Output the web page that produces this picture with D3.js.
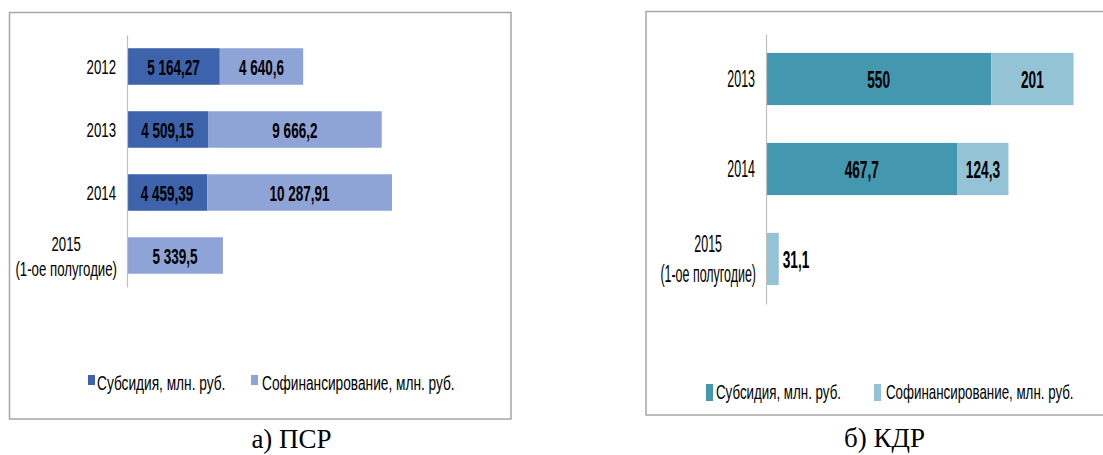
<!doctype html>
<html>
<head>
<meta charset="utf-8">
<script src="https://cdn.jsdelivr.net/npm/d3@7"></script>
<style>
  body { margin: 0; background: #fff; }
  svg { display: block; }
</style>
</head>
<body>
<script>
// Данные: ПСР
const psrYears = ["2012", "2013", "2014", "2015\n(1-ое полугодие)"];
const psrSubsidy = [5164.27, 4509.15, 4459.39, null];
const psrCofin = [4640.6, 9666.2, 10287.91, 5339.5];

// Данные: КДР
const kdrYears = ["2013", "2014", "2015\n(1-ое полугодие)"];
const kdrSubsidy = [550, 467.7, null];
const kdrCofin = [201, 124.3, 31.1];

const seriesNames = ["Субсидия, млн. руб.", "Софинансирование, млн. руб."];
const captions = ["а) ПСР", "б) КДР"];

const ru = d3.formatLocale({decimal: ",", thousands: " ", grouping: [3], currency: ["", ""]});
const fmt = ru.format(",.2~f");

const W = 1103, H = 455;
const svg = d3.select("body").append("svg").attr("width", W).attr("height", H);

const sans = "'Liberation Sans', Arial, sans-serif";
const serif = "'Liberation Serif', 'Times New Roman', serif";

// текст, сжатый по горизонтали (узкий шрифт как в оригинале)
function txt(g, x, y, s, size, sx, anchor = "start", weight = "normal") {
  return g.append("text")
      .attr("transform", `translate(${x},${y}) scale(${sx},1)`)
      .attr("text-anchor", anchor)
      .style("font-family", sans)
      .style("font-size", size + "px")
      .style("font-weight", weight)
      .attr("fill", "#000")
      .text(s);
}

const panels = [
  {
    years: psrYears, subsidy: psrSubsidy, cofin: psrCofin,
    colors: ["#3c63ac", "#8fa4d6"],
    frame: [9.5, 12.5, 501.5, 406.5],
    x0: 127, xMax: 20000, xEnd: 486.4,
    yRange: [35, 287], lineGap: 25,
    catSize: 21, catSx: 0.63,
    valSize: 22.5, valSx: 0.6,
    legY: 390, legSize: 20, legSx: 0.685,
    legBox: [[88, 375, 7, 10], [251, 375, 7, 10]],
    legText: [97, 262],
    cap: [291.5, 448]
  },
  {
    years: kdrYears, subsidy: kdrSubsidy, cofin: kdrCofin,
    colors: ["#4397ae", "#94c3d5"],
    frame: [646, 11.5, 470, 403.5],
    x0: 766, xMax: 800, xEnd: 1093.6,
    yRange: [34, 304], lineGap: 30,
    catSize: 23.5, catSx: 0.53,
    valSize: 24, valSx: 0.57,
    legY: 399, legSize: 21, legSx: 0.635,
    legBox: [[706, 384, 7, 17], [874, 384, 7, 17]],
    legText: [716, 886],
    cap: [884.5, 447]
  }
];

panels.forEach((p, pi) => {
  const g = svg.append("g");

  g.append("rect")
      .attr("x", p.frame[0]).attr("y", p.frame[1])
      .attr("width", p.frame[2]).attr("height", p.frame[3])
      .attr("fill", "#fff")
      .attr("stroke", "#a6a6a6")
      .attr("stroke-width", 1.5);

  const x = d3.scaleLinear().domain([0, p.xMax]).range([p.x0, p.xEnd]);
  const y = d3.scaleBand().domain(p.years).range(p.yRange)
      .paddingInner(0.42).paddingOuter(0.21);

  const rows = p.years.map((year, i) => ({year, s: p.subsidy[i], c: p.cofin[i]}));
  const stack = d3.stack().keys(["s", "c"]).value((d, k) => d[k] || 0)(rows);

  const layer = g.selectAll("g.layer").data(stack).join("g")
      .attr("class", "layer")
      .attr("fill", (d, i) => p.colors[i]);

  layer.selectAll("rect")
      .data(d => d.filter(v => v[1] > v[0]))
      .join("rect")
      .attr("x", d => x(d[0]))
      .attr("y", d => y(d.data.year))
      .attr("width", d => x(d[1]) - x(d[0]))
      .attr("height", y.bandwidth());

  // подписи значений
  stack.forEach(series => {
    series.filter(v => v[1] > v[0]).forEach(v => {
      const val = v.data[series.key];
      const w = x(v[1]) - x(v[0]);
      const cy = y(v.data.year) + y.bandwidth() / 2 + p.valSize * 0.36;
      if (w > 35) {
        txt(g, (x(v[0]) + x(v[1])) / 2, cy, fmt(val), p.valSize, p.valSx, "middle", "bold");
      } else {
        txt(g, x(v[1]) + 4, cy, fmt(val), p.valSize, p.valSx, "start", "bold");
      }
    });
  });

  // ось категорий
  const axis = g.append("g")
      .attr("transform", `translate(${p.x0},0)`)
      .call(d3.axisLeft(y).tickSize(0).tickFormat(""));
  axis.select(".domain").attr("stroke", "#bfbfbf").attr("stroke-width", 1.2);

  p.years.forEach(year => {
    const lines = year.split("\n");
    const cy = y(year) + y.bandwidth() / 2 + p.catSize * 0.36;
    if (lines.length === 1) {
      txt(g, p.x0 - 11, cy, year, p.catSize, p.catSx, "end");
    } else {
      // двухстрочная подпись, центрированная по самой длинной строке
      const tmp = txt(g, 0, 0, lines[1], p.catSize, p.catSx, "start");
      const wLine = tmp.node().getBBox().width * p.catSx;
      tmp.remove();
      const cx = p.x0 - 10 - wLine / 2;
      lines.forEach((l, li) => {
        txt(g, cx, cy + (li - (lines.length - 1) / 2) * p.lineGap, l, p.catSize, p.catSx, "middle");
      });
    }
  });

  // легенда
  seriesNames.forEach((name, i) => {
    const b = p.legBox[i];
    g.append("rect").attr("x", b[0]).attr("y", b[1]).attr("width", b[2]).attr("height", b[3])
        .attr("fill", p.colors[i]);
    txt(g, p.legText[i], p.legY, name, p.legSize, p.legSx, "start");
  });

  g.append("text")
      .attr("x", p.cap[0]).attr("y", p.cap[1])
      .attr("text-anchor", "middle")
      .style("font-family", serif)
      .style("font-size", "27px")
      .text(captions[pi]);
});
</script>
</body>
</html>
